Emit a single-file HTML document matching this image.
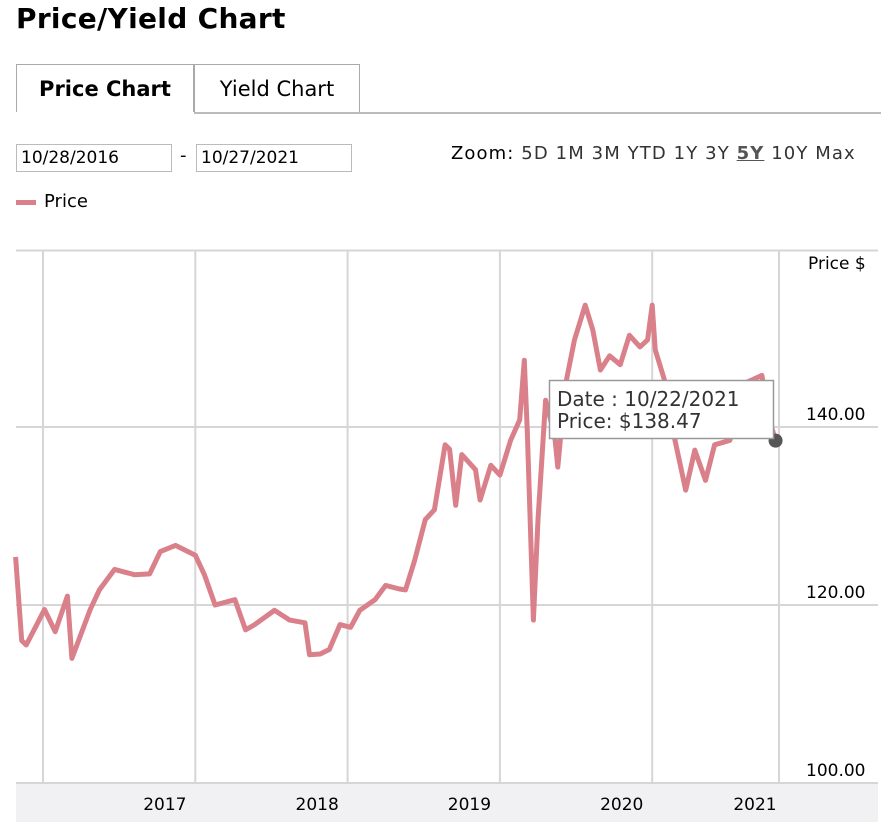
<!DOCTYPE html>
<html><head><meta charset="utf-8"><style>
body{margin:0;background:#fff;font-family:"DejaVu Sans","Liberation Sans",sans-serif;width:881px;height:822px;overflow:hidden;position:relative;color:#000}
.abs{position:absolute}
h1{position:absolute;left:16px;top:2px;margin:0;font-size:28px;font-weight:bold;letter-spacing:0.3px}
.tab{position:absolute;top:64px;height:48px;border:1px solid #aaa;border-bottom:none;font-size:21px;line-height:48px;text-align:center;box-sizing:border-box}
input{position:absolute;top:144px;height:28px;border:1px solid #bbb;font-size:17px;padding:0 4px;box-sizing:border-box;font-family:inherit}
.z{position:absolute;top:143px;font-size:18px;color:#333;letter-spacing:1.1px;white-space:nowrap}
</style></head><body>
<h1>Price/Yield Chart</h1>
<div class="tab" style="left:16px;width:178px;font-weight:bold">Price Chart</div>
<div class="tab" style="left:194px;width:166px;background:#fff">Yield Chart</div>
<div class="abs" style="left:194px;top:112px;width:687px;height:2px;background:#bbb"></div>
<input style="left:16px;width:156px" value="10/28/2016">
<div class="abs" style="left:180px;top:145px;font-size:18px">-</div>
<input style="left:196px;width:156px" value="10/27/2021">
<div class="z" style="left:451px"><span style="color:#000">Zoom:</span>
<span>5D</span> <span>1M</span> <span>3M</span> <span>YTD</span> <span>1Y</span> <span>3Y</span> <b style="text-decoration:underline;color:#555">5Y</b> <span>10Y</span> <span>Max</span></div>
<div class="abs" style="left:16px;top:200px;width:20px;height:5px;background:#d9808a"></div>
<div class="abs" style="left:44px;top:191px;font-size:18px">Price</div>
<svg class="abs" style="left:0;top:0" width="881" height="822" id="chart"></svg>
<script>
const dates=[2016.82,2016.86,2016.89,2016.95,2017.01,2017.08,2017.16,2017.19,2017.31,2017.37,2017.47,2017.60,2017.70,2017.77,2017.87,2018.00,2018.06,2018.13,2018.26,2018.33,2018.39,2018.52,2018.62,2018.72,2018.75,2018.82,2018.88,2018.95,2019.02,2019.08,2019.18,2019.25,2019.34,2019.38,2019.44,2019.51,2019.57,2019.64,2019.67,2019.71,2019.75,2019.84,2019.87,2019.94,2020.00,2020.07,2020.13,2020.16,2020.18,2020.22,2020.25,2020.30,2020.36,2020.38,2020.43,2020.49,2020.56,2020.61,2020.66,2020.72,2020.79,2020.85,2020.92,2020.97,2021.00,2021.02,2021.08,2021.15,2021.22,2021.28,2021.35,2021.41,2021.51,2021.58,2021.72,2021.77,2021.81];
const prices=[125.4,116,115.5,117.5,119.5,117,121,114,119.5,121.7,124,123.4,123.5,126,126.7,125.6,123.4,120,120.6,117.2,117.8,119.4,118.3,118,114.4,114.5,115,117.8,117.5,119.4,120.6,122.2,121.8,121.7,125,129.6,130.7,138,137.5,131.2,136.9,135.2,131.8,135.7,134.6,138.5,140.8,147.5,139.5,118.3,129.6,143,139,135.5,144.7,149.8,153.7,150.9,146.4,148,147,150.3,149,149.8,153.7,148.7,145.3,138.5,132.9,137.4,134,138,138.5,144.7,145.8,140.8,138.47];
const yTicks=[140,120,100];
const yTickLabels=["140.00","120.00","100.00"];
const xYears=[2017,2018,2019,2020,2021];
const xLabels=["2017","2018","2019","2020","2021"];
const NS="http://www.w3.org/2000/svg";
const svg=document.getElementById('chart');
const xs=t=>43+(t-2017)*152.3;
const ys=v=>427-(v-140)*8.9;
function mk(tag,attrs){const e=document.createElementNS(NS,tag);for(const k in attrs)e.setAttribute(k,attrs[k]);svg.appendChild(e);return e;}
let e=mk('rect',{x:16,y:782,width:862,height:40,fill:'#f1f1f3'});


e=mk('line',{x1:16,x2:878,y1:250.5,y2:250.5,stroke:'#d6d6d6','stroke-width':2});


yTicks.forEach((v,i)=>{
  const g=mk('line',{x1:16,x2:878,y1:ys(v),y2:ys(v),stroke:'#d6d6d6','stroke-width':2});
  
  
  const t=mk('text',{x:806,y:ys(v)-7,'font-size':17,fill:'#000','font-family':'DejaVu Sans, Liberation Sans, sans-serif'});
  t.textContent=yTickLabels[i];
  
  
});
const yt=mk('text',{x:808,y:269,'font-size':17,fill:'#000','font-family':'DejaVu Sans, Liberation Sans, sans-serif'});
yt.textContent='Price $';


xYears.forEach((yr,i)=>{
  const g=mk('line',{x1:xs(yr),x2:xs(yr),y1:250,y2:782,stroke:'#d6d6d6','stroke-width':2});
  
  
  const lx=i===xYears.length-1?755:xs(yr+0.8);
  const t=mk('text',{x:lx,y:810,'text-anchor':'middle','font-size':17,fill:'#000','font-family':'DejaVu Sans, Liberation Sans, sans-serif'});
  t.textContent=xLabels[i];
  
  
});
e=mk('line',{x1:779,x2:779,y1:250,y2:782,stroke:'#d6d6d6','stroke-width':2});


const d=dates.map((t,i)=>(i?'L':'M')+xs(t).toFixed(1)+','+ys(prices[i]).toFixed(1)).join('');
const line=mk('path',{d:d,fill:'none',stroke:'#d9808a','stroke-width':5,'stroke-linejoin':'round'});


const li=dates.length-1;
const dot=mk('circle',{cx:xs(dates[li]),cy:ys(prices[li]),r:7,fill:'#555'});


const tb=mk('rect',{x:549.5,y:380.5,width:224,height:58,fill:'#fff',stroke:'#999','stroke-width':1.5});


const t1=mk('text',{x:557,y:406,'font-size':20,fill:'#333','font-family':'DejaVu Sans, Liberation Sans, sans-serif'});
t1.textContent='Date : 10/22/2021';


const t2=mk('text',{x:557,y:428,'font-size':20,fill:'#333','font-family':'DejaVu Sans, Liberation Sans, sans-serif'});
t2.textContent='Price: $'+prices[li].toFixed(2);


</script>
</body></html>
